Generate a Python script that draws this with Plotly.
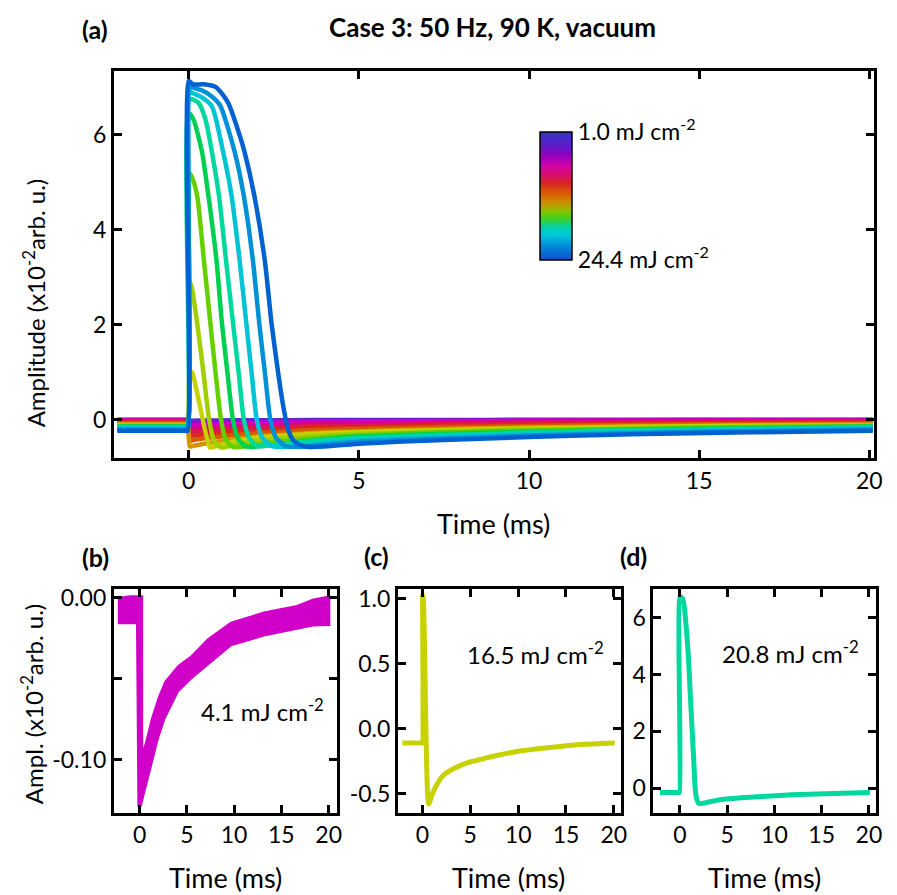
import plotly.graph_objects as go

W, H = 897, 895
FONT = "Lato"

# ---------------- data: pump fluence (mJ cm^-2) and transients (x10^-2 arb. u.) ----------------
fluences = [1.0, 2.0, 3.1, 4.1, 6.0, 8.0, 10.1, 12.2, 14.4,
            16.5, 17.6, 18.7, 19.7, 20.8, 22.0, 23.2, 24.4]

# time knots (ms) shared by the low-fluence (no positive pulse) traces
t_low = [-2.1, -0.1, -0.03, 0.03, 0.1, 0.6, 1.3, 2.0, 3.0, 4.0, 5.5, 7.5, 10.0, 13.0, 16.5, 20.1]
a_f010 = [0.005, 0.005, 0.005, -0.015, -0.015, -0.012, -0.009, -0.006, -0.004, -0.002, -0.001, 0.0, 0.002, 0.003, 0.004, 0.005]
a_f020 = [0.0, 0.0, 0.0, -0.05, -0.049, -0.042, -0.035, -0.029, -0.022, -0.018, -0.015, -0.011, -0.006, -0.004, -0.002, 0.0]
a_f031 = [-0.004, -0.004, -0.004, -0.09, -0.088, -0.075, -0.063, -0.052, -0.041, -0.035, -0.03, -0.022, -0.014, -0.01, -0.007, -0.004]
a_f041 = [-0.008, -0.008, -0.008, -0.125, -0.122, -0.105, -0.089, -0.075, -0.06, -0.05, -0.043, -0.033, -0.023, -0.016, -0.012, -0.008]
a_f060 = [-0.02, -0.02, -0.02, -0.19, -0.186, -0.165, -0.14, -0.12, -0.1, -0.085, -0.075, -0.06, -0.045, -0.035, -0.028, -0.022]
a_f080 = [-0.035, -0.035, -0.035, -0.26, -0.255, -0.225, -0.195, -0.17, -0.145, -0.125, -0.11, -0.09, -0.072, -0.058, -0.047, -0.038]
a_f101 = [-0.05, -0.05, -0.05, -0.34, -0.334, -0.3, -0.26, -0.23, -0.195, -0.17, -0.15, -0.125, -0.1, -0.08, -0.065, -0.055]
a_f122 = [-0.07, -0.07, -0.07, -0.44, -0.43, -0.37, -0.32, -0.28, -0.24, -0.21, -0.185, -0.155, -0.13, -0.105, -0.088, -0.075]
a_f144 = [-0.09, -0.09, -0.09, -0.56, -0.55, -0.48, -0.41, -0.35, -0.3, -0.265, -0.23, -0.195, -0.16, -0.135, -0.11, -0.095]

# high-fluence traces, each with its own time knots
t_f165 = [-2.1, -0.1, -0.03, 0.03, 0.1, 0.62, 0.7, 1.0, 1.37, 2.06, 2.74, 4.45, 6.17, 7.88, 9.6, 13.0, 16.5, 20.1]
a_f165 = [-0.11, -0.11, -0.11, 1.03, 1.0, -0.58, -0.575, -0.51, -0.45, -0.37, -0.33, -0.27, -0.235, -0.205, -0.18, -0.148, -0.122, -0.11]

t_f176 = [-2.1, -0.1, -0.03, 0.03, 0.1, 0.24, 0.435, 0.6, 0.75, 0.95, 1.3, 2.0, 3.0, 5.0, 7.5, 10.0, 15.0, 20.1]
a_f176 = [-0.12, -0.12, -0.12, 2.91, 2.75, 2.08, 0.98, 0.0, -0.45, -0.58, -0.53, -0.44, -0.37, -0.29, -0.24, -0.2, -0.15, -0.12]

t_f187 = [-2.1, -0.1, -0.03, 0.03, 0.1, 0.25, 0.45, 0.63, 0.79, 0.95, 1.08, 1.3, 1.7, 2.5, 3.5, 5.0, 7.5, 10.0, 15.0, 20.1]
a_f187 = [-0.13, -0.13, -0.13, 5.19, 5.1, 4.71, 3.33, 2.08, 0.98, 0.0, -0.4, -0.57, -0.55, -0.46, -0.39, -0.32, -0.26, -0.22, -0.165, -0.13]

t_f197 = [-2.1, -0.1, -0.03, 0.03, 0.15, 0.39, 0.58, 0.82, 0.97, 1.14, 1.3, 1.45, 1.7, 2.2, 3.0, 4.0, 5.0, 7.5, 10.0, 15.0, 20.1]
a_f197 = [-0.14, -0.14, -0.14, 6.44, 6.3, 5.64, 4.71, 3.33, 2.08, 0.98, 0.0, -0.4, -0.56, -0.55, -0.48, -0.4, -0.35, -0.29, -0.25, -0.18, -0.14]

t_f208 = [-2.1, -0.1, -0.03, 0.03, 0.29, 0.5, 0.68, 0.89, 1.1, 1.3, 1.47, 1.62, 1.78, 2.0, 2.5, 3.14, 4.88, 8.4, 11.86, 15.35, 20.1]
a_f208 = [-0.15, -0.15, -0.15, 6.75, 6.67, 6.3, 5.64, 4.71, 3.33, 2.05, 0.98, 0.0, -0.38, -0.54, -0.53, -0.48, -0.385, -0.3, -0.235, -0.2, -0.15]

t_f220 = [-2.1, -0.1, -0.03, 0.03, 0.1, 0.35, 0.68, 1.01, 1.26, 1.5, 1.69, 1.85, 2.0, 2.17, 2.45, 3.0, 4.0, 5.0, 7.5, 10.0, 15.0, 20.1]
a_f220 = [-0.17, -0.17, -0.17, 6.92, 6.88, 6.8, 6.6, 5.64, 4.71, 3.33, 2.05, 0.98, 0.0, -0.38, -0.55, -0.56, -0.48, -0.42, -0.35, -0.3, -0.22, -0.17]

t_f232 = [-2.1, -0.1, -0.03, 0.03, 0.1, 0.4, 0.65, 0.92, 1.35, 1.62, 1.89, 2.07, 2.24, 2.4, 2.57, 2.85, 3.4, 4.0, 5.0, 7.5, 10.0, 15.0, 20.1]
a_f232 = [-0.2, -0.2, -0.2, 7.03, 7.0, 6.93, 6.82, 6.62, 5.64, 4.71, 3.33, 2.05, 0.98, 0.0, -0.38, -0.55, -0.56, -0.52, -0.46, -0.39, -0.33, -0.25, -0.2]

t_f244 = [-2.1, -0.1, -0.03, 0.0, 0.12, 0.45, 0.8, 1.16, 1.5, 1.64, 1.93, 2.24, 2.43, 2.63, 2.78, 2.92, 3.1, 3.4, 4.0, 5.0, 7.5, 10.0, 13.0, 16.5, 20.1]
a_f244 = [-0.23, -0.23, -0.23, 7.13, 7.06, 7.06, 7.0, 6.67, 5.98, 5.64, 4.71, 3.33, 2.05, 0.98, 0.28, -0.2, -0.45, -0.56, -0.56, -0.5, -0.42, -0.36, -0.3, -0.26, -0.23]

# 4.1 mJ cm^-2 trace with its noise envelope (upper and lower edges)
t_b_hi = [-2.3, -1.0, 0.3, 0.3, 0.59, 1.29, 1.98, 2.68, 4.08, 5.47, 7.22, 9.66, 13.15, 16.64, 18.38, 20.1]
a_b_hi = [0.0, 0.001, 0.001, -0.095, -0.091, -0.0745, -0.062, -0.052, -0.042, -0.036, -0.0255, -0.0153, -0.009, -0.005, -0.001, 0.001]
t_b_lo = [-2.3, -0.3, -0.15, 0.15, 0.59, 1.29, 1.98, 2.68, 4.08, 5.47, 7.22, 9.66, 13.15, 16.64, 18.38, 20.1]
a_b_lo = [-0.016, -0.016, -0.1286, -0.1286, -0.1194, -0.1031, -0.0867, -0.0745, -0.058, -0.05, -0.0418, -0.0296, -0.0235, -0.0194, -0.0173, -0.017]

# ---------------- styling ----------------
trace_colors = ["#4a34d4", "#7a18d0", "#a808cc", "#d000c8", "#d8008c", "#d81850",
                "#d82a20", "#d85a00", "#d89400", "#c8d200", "#a0d000", "#64d000",
                "#00d050", "#00d8a0", "#00c4d4", "#0090d8", "#0062d0"]

cbar_scale = [[0.0, "#1050d0"], [0.117, "#0090d8"], [0.195, "#00c8d8"], [0.25, "#00d0b0"],
              [0.325, "#40d020"], [0.38, "#88c400"], [0.44, "#c89400"], [0.51, "#d86400"],
              [0.60, "#d82424"], [0.66, "#d8106a"], [0.74, "#d000a8"], [0.82, "#9000c0"],
              [0.896, "#5a1ec8"], [1.0, "#3434c8"]]

SMOOTH = 0.6


def fx(px):
    return px / W


def fy(py):
    return 1 - py / H


fig = go.Figure()

low_sets = [a_f010, a_f020, a_f031, a_f041, a_f060, a_f080, a_f101, a_f122, a_f144]
high_sets = [(t_f165, a_f165), (t_f176, a_f176), (t_f187, a_f187), (t_f197, a_f197),
             (t_f208, a_f208), (t_f220, a_f220), (t_f232, a_f232), (t_f244, a_f244)]

series = [(t_low, a) for a in low_sets] + high_sets
for (tt, aa), col, fl in zip(series, trace_colors, fluences):
    fig.add_trace(go.Scatter(x=tt, y=aa, mode="lines",
                             line=dict(color=col, width=4.5, shape="spline", smoothing=SMOOTH),
                             name=f"{fl} mJ cm-2", showlegend=False, xaxis="x", yaxis="y"))

# fluence colour bar
fig.add_trace(go.Scatter(
    x=[None], y=[None], mode="markers", showlegend=False, xaxis="x", yaxis="y",
    marker=dict(color=[0.5], cmin=0, cmax=1, colorscale=cbar_scale, showscale=True,
                colorbar=dict(x=fx(545), xanchor="left", y=fy(126), yanchor="top",
                              len=128, lenmode="pixels", thickness=32, thicknessmode="pixels",
                              xpad=0, ypad=0, outlinewidth=1.5, outlinecolor="black",
                              tickvals=[0, 1],
                              ticktext=["24.4 mJ cm<sup>-2</sup>", "1.0 mJ cm<sup>-2</sup>"],
                              ticks="", tickfont=dict(family=FONT, size=23, color="black")))))

# panel (b): 4.1 mJ cm^-2 envelope
col_b = trace_colors[fluences.index(4.1)]
fig.add_trace(go.Scatter(x=t_b_hi + t_b_lo[::-1], y=a_b_hi + a_b_lo[::-1], mode="lines",
                         fill="toself", fillcolor=col_b, line=dict(color=col_b, width=1.5),
                         showlegend=False, xaxis="x2", yaxis="y2"))

# panel (c): 16.5 mJ cm^-2
fig.add_trace(go.Scatter(x=t_f165, y=a_f165, mode="lines",
                         line=dict(color=trace_colors[fluences.index(16.5)], width=5,
                                   shape="spline", smoothing=SMOOTH),
                         showlegend=False, xaxis="x3", yaxis="y3"))

# panel (d): 20.8 mJ cm^-2
fig.add_trace(go.Scatter(x=t_f208, y=a_f208, mode="lines",
                         line=dict(color=trace_colors[fluences.index(20.8)], width=5,
                                   shape="spline", smoothing=SMOOTH),
                         showlegend=False, xaxis="x4", yaxis="y4"))

axis_style = dict(showline=True, linecolor="black", linewidth=3, mirror="ticks",
                  ticks="inside", ticklen=8, tickwidth=2.5, tickcolor="black",
                  showgrid=False, zeroline=False,
                  tickfont=dict(family=FONT, size=23, color="black"))

x_ticks = [0, 5, 10, 15, 20]

fig.update_layout(
    width=W, height=H, margin=dict(l=0, r=0, t=0, b=0),
    paper_bgcolor="white", plot_bgcolor="white",
    font=dict(family=FONT, color="black"),
    xaxis=dict(domain=[fx(115), fx(883)], range=[-2.2, 20.14], anchor="y",
               tickvals=x_ticks, **axis_style),
    yaxis=dict(domain=[fy(455), fy(65)], range=[-0.81, 7.33], anchor="x",
               tickvals=[0, 2, 4, 6], **axis_style),
    xaxis2=dict(domain=[fx(115), fx(340)], range=[-2.72, 20.84], anchor="y2",
                tickvals=x_ticks, **axis_style),
    yaxis2=dict(domain=[fy(812), fy(587)], range=[-0.1327, 0.0051], anchor="x2",
                tickvals=[0.0, -0.05, -0.10], ticktext=["0.00", "", "-0.10"], **axis_style),
    xaxis3=dict(domain=[fx(402), fx(627)], range=[-2.56, 20.72], anchor="y3",
                tickvals=x_ticks, **axis_style),
    yaxis3=dict(domain=[fy(812), fy(587)], range=[-0.648, 1.074], anchor="x3",
                tickvals=[1.0, 0.5, 0.0, -0.5], ticktext=["1.0", "0.5", "0.0", "-0.5"], **axis_style),
    xaxis4=dict(domain=[fx(660), fx(885)], range=[-2.8, 20.76], anchor="y4",
                tickvals=x_ticks, **axis_style),
    yaxis4=dict(domain=[fy(812), fy(587)], range=[-0.864, 7.0], anchor="x4",
                tickvals=[0, 2, 4, 6], **axis_style),
)


def label(text, x, y, size, bold=False, angle=0):
    fig.add_annotation(text=f"<b>{text}</b>" if bold else text, x=fx(x), y=fy(y),
                       xref="paper", yref="paper", showarrow=False, textangle=angle,
                       xanchor="center", yanchor="middle",
                       font=dict(family=FONT, size=size, color="black"))


label("Case 3: 50 Hz, 90 K, vacuum", 497, 20, 26, bold=True)
label("(a)", 96, 22, 25, bold=True)
label("(b)", 96, 554, 25, bold=True)
label("(c)", 380, 553, 25, bold=True)
label("(d)", 640, 553, 25, bold=True)

label("Amplitude (x10<sup>-2</sup>arb. u.)", 34, 298, 24, angle=-90)
label("Ampl. (x10<sup>-2</sup>arb. u.)", 32, 703, 24, angle=-90)

label("Time (ms)", 499, 521, 27)
label("Time (ms)", 228, 877, 27)
label("Time (ms)", 514, 877, 27)
label("Time (ms)", 772, 877, 27)

label("4.1 mJ cm<sup>-2</sup>", 265, 709, 24)
label("16.5 mJ cm<sup>-2</sup>", 541, 651, 24)
label("20.8 mJ cm<sup>-2</sup>", 799, 650, 24)

fig.write_html("out.html")
